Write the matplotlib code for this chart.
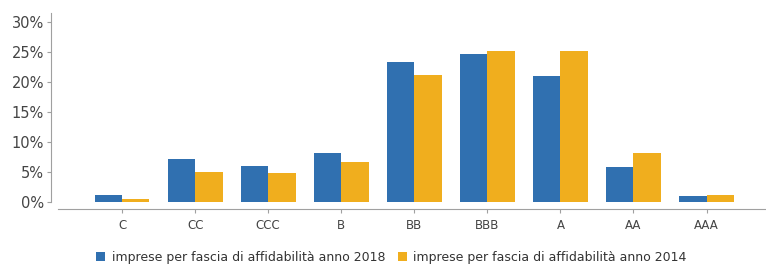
import matplotlib.pyplot as plt
import numpy as np

categories = ['C', 'CC', 'CCC', 'B', 'BB', 'BBB', 'A', 'AA', 'AAA']
share_2018 = [1.1, 7.2, 6.0, 8.2, 23.3, 24.6, 21.0, 5.8, 1.0]
share_2014 = [0.5, 5.0, 4.9, 6.6, 21.1, 25.1, 25.2, 8.2, 1.2]
y_ticks = [0, 5, 10, 15, 20, 25, 30]

blue = '#3070B0'
yellow = '#F0AE1E'
grey = '#A0A0A0'
text_col = '#444444'

fig = plt.figure(figsize=(7.66, 2.66), dpi=100)
ax = fig.add_axes([58 / 766, 1 - 202 / 266, 707 / 766, 189 / 266])

x = np.arange(len(categories))
w = 0.375
ax.bar(x - w / 2, share_2018, w, color=blue, label='imprese per fascia di affidabilità anno 2018')
ax.bar(x + w / 2, share_2014, w, color=yellow, label='imprese per fascia di affidabilità anno 2014')

ax.set_xlim(-0.877, 8.8)
ax.set_ylim(0, 31.5)
ax.set_xticks(x)
ax.set_xticklabels(categories)
ax.set_yticks(y_ticks)
ax.set_yticklabels([f'{v}%' for v in y_ticks])

for s in ['top', 'right']:
    ax.spines[s].set_visible(False)
ax.spines['left'].set_position(('outward', 5))
ax.spines['bottom'].set_position(('outward', 5))
ax.spines['left'].set_color(grey)
ax.spines['bottom'].set_color(grey)
ax.tick_params(axis='both', colors=grey, length=3, width=0.8, labelcolor=text_col)
ax.tick_params(axis='y', labelsize=10.5, pad=2)
ax.tick_params(axis='x', labelsize=8.5, pad=4)

fig.legend(loc='lower center', bbox_to_anchor=(0.511, -0.035), ncol=2, frameon=False,
           fontsize=9, handlelength=0.75, handleheight=0.75, handletextpad=0.5,
           columnspacing=1.0, labelcolor='#333333')

fig.savefig('out.png', dpi=100)
